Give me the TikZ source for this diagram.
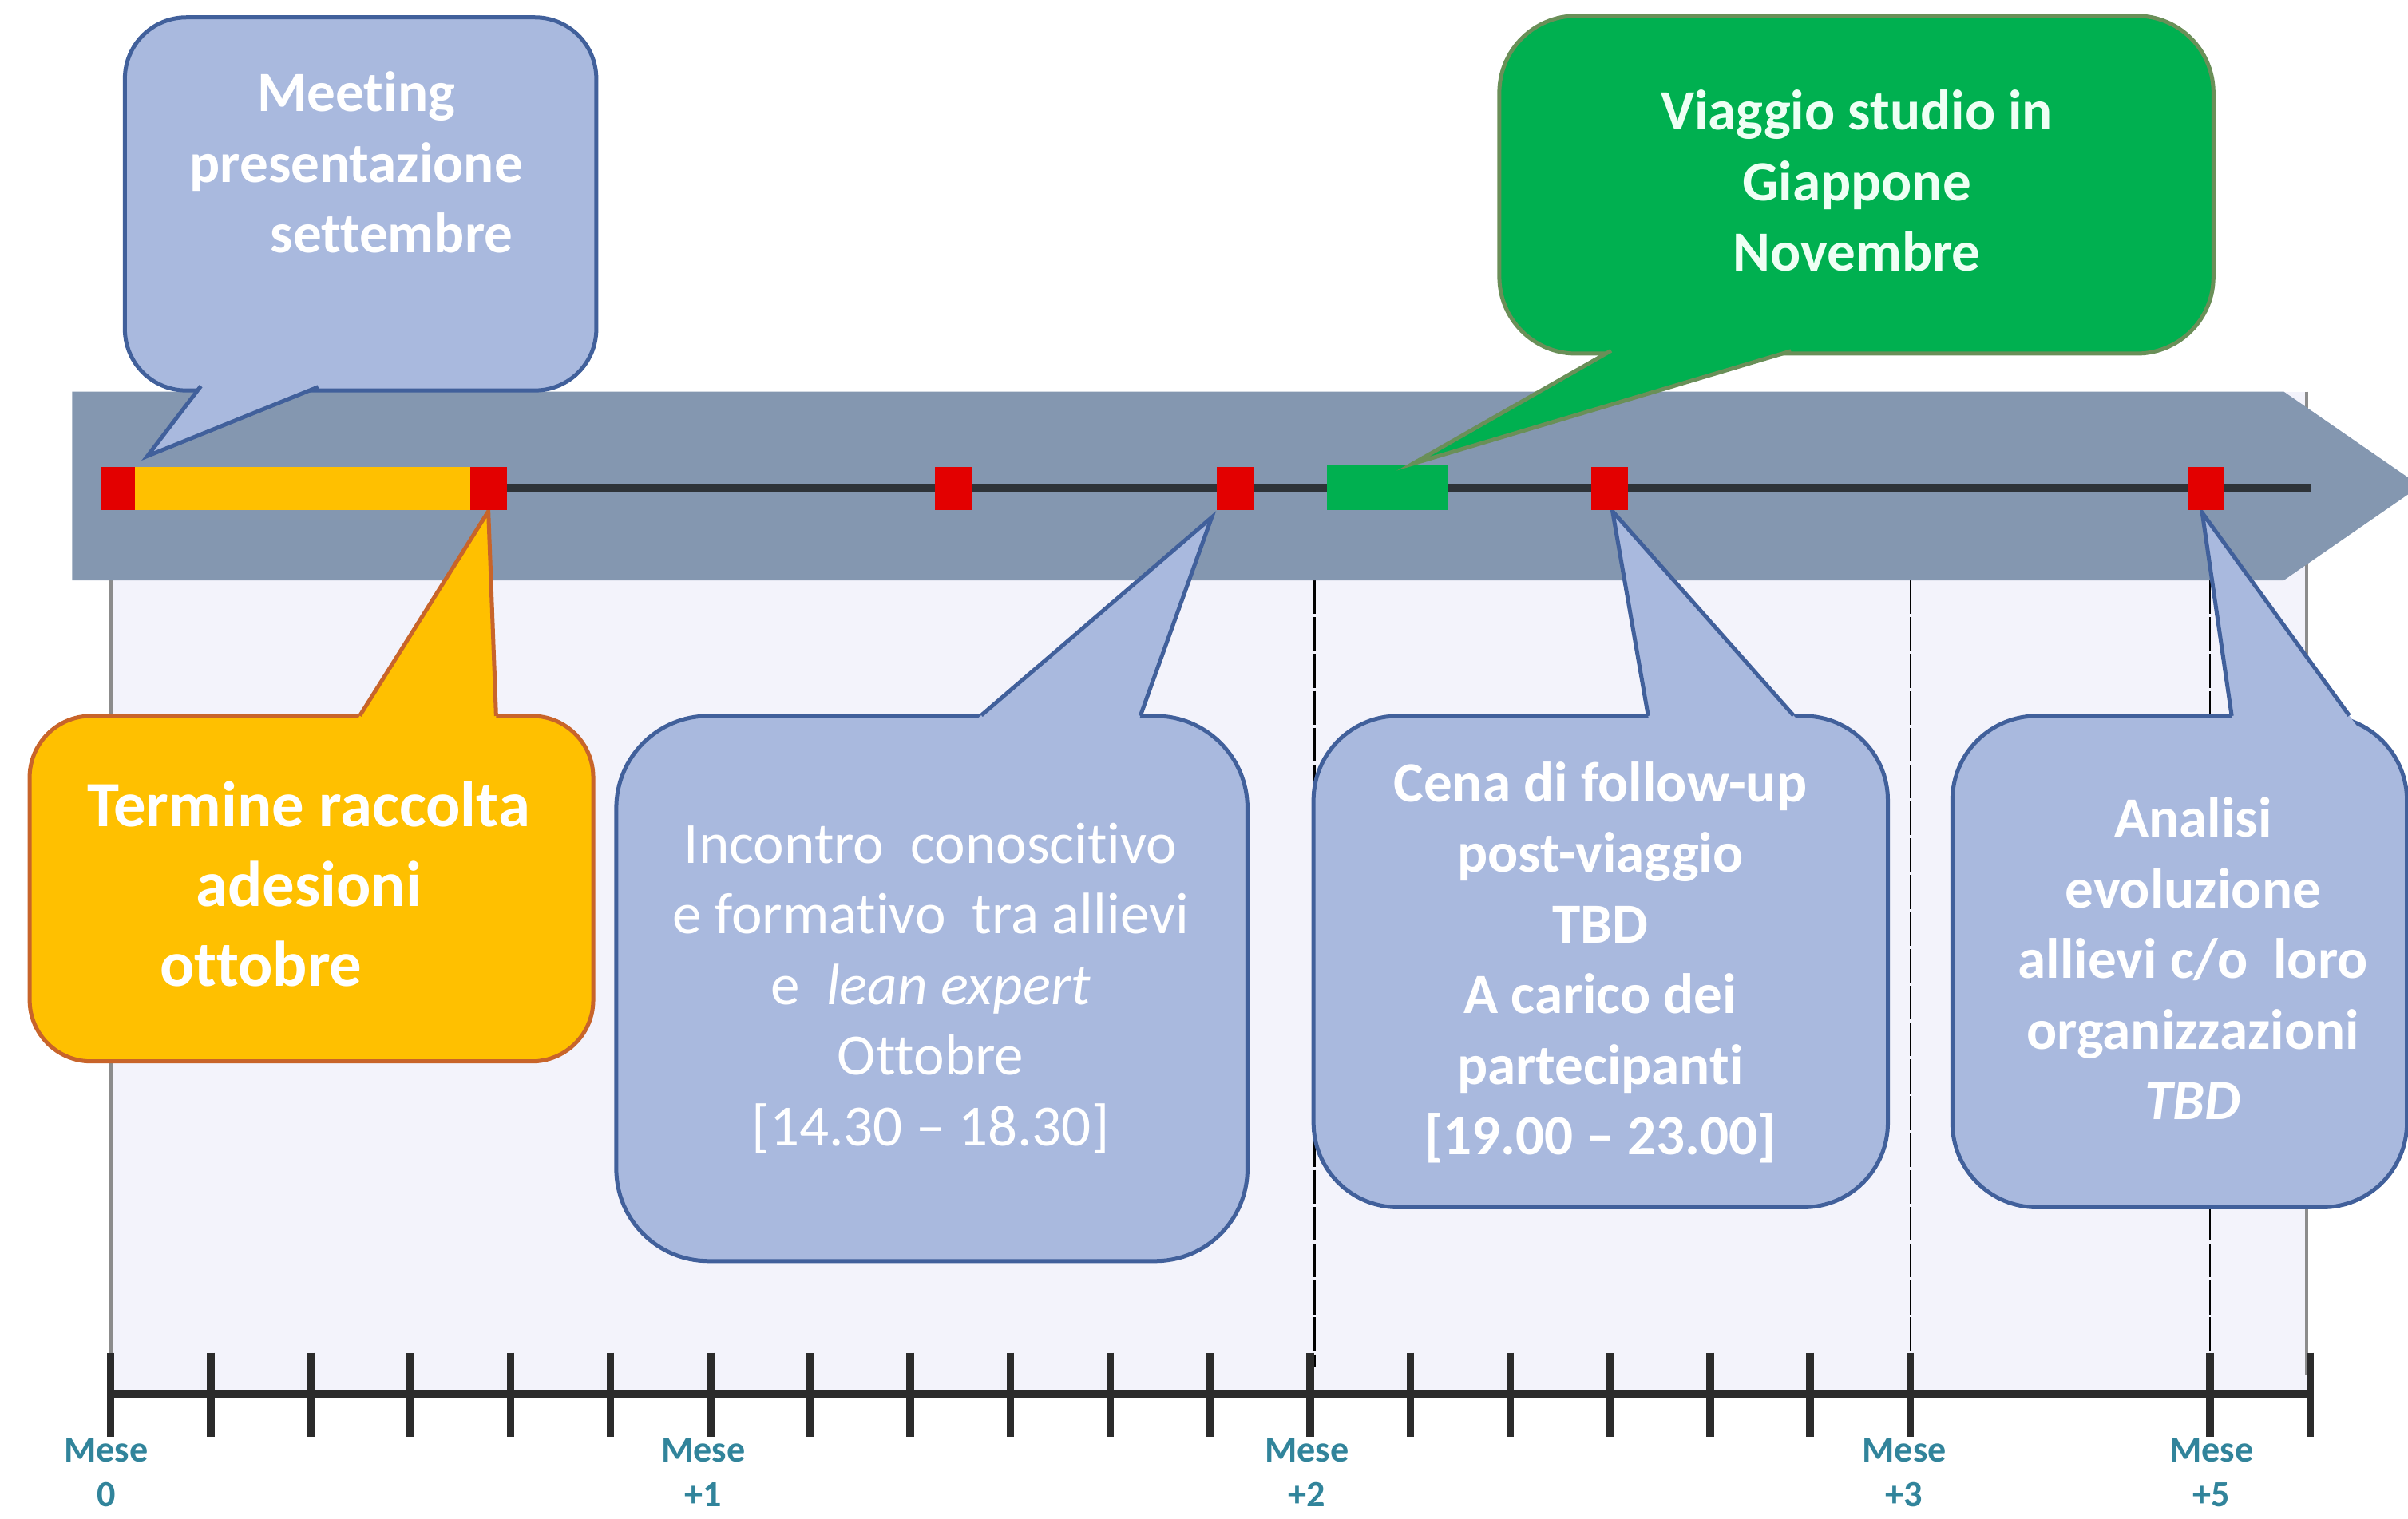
\documentclass[tikz,border=0pt]{standalone}
\usepackage{fontspec}
\setmainfont{Carlito}[Ligatures=NoCommon]
\usetikzlibrary{calc}

\definecolor{bandgray}{HTML}{8497B0}
\definecolor{panelfill}{HTML}{F3F3FB}
\definecolor{paneledge}{HTML}{8C8C8C}
\definecolor{calfill}{HTML}{A9B9DE}
\definecolor{calborder}{HTML}{41609B}
\definecolor{orfill}{HTML}{FFC000}
\definecolor{orborder}{HTML}{C8642A}
\definecolor{grfill}{HTML}{00B050}
\definecolor{grborder}{HTML}{6A8F58}
\definecolor{grtext}{HTML}{EEFFF4}
\definecolor{mkred}{HTML}{E30000}
\definecolor{axisdark}{HTML}{2B2B2B}
\definecolor{linedark}{HTML}{2E3338}
\definecolor{meseteal}{HTML}{31849B}

% tail of a speech bubble: fill colour, border colour, base point 1, tip, base point 2
\newcommand\calltail[5]{%
  \fill[#1] ($(#3)!-14pt!(#4)$) -- (#4) -- ($(#5)!-14pt!(#4)$) -- cycle;
  \draw[#2, line width=2.6pt, line join=miter]
    ($(#3)!-1.3pt!(#4)$) -- (#4) -- ($(#5)!-1.3pt!(#4)$);
}

\begin{document}
\begin{tikzpicture}[x=1pt,y=-1pt,
  calbox/.style={line width=2.6pt, rounded corners=#1, inner sep=0pt, anchor=north west},
  bluebox/.style={calbox=#1, draw=calborder, fill=calfill},
  orangebox/.style={calbox=#1, draw=orborder, fill=orfill},
  greenbox/.style={calbox=#1, draw=grborder, fill=grfill},
  txt/.style={text=white, align=center, inner sep=0pt,
    font=\fontsize{37}{46}\selectfont},
  boldtxt/.style={txt, font=\fontsize{37}{46}\selectfont\bfseries},
  bigtxt/.style={txt, font=\fontsize{42}{52}\selectfont\bfseries},
  marker/.style={fill=mkred, inner sep=0pt, minimum width=24pt, minimum height=28pt},
  tick/.style={draw=axisdark, line width=5pt},
  guide/.style={draw=black, line width=1.2pt, dash pattern=on 22pt off 2pt},
  meselbl/.style={text=meseteal, align=center, inner sep=0pt,
    font=\fontsize{24}{29}\selectfont\bfseries}
]
\useasboundingbox (0,0) rectangle (1568,989);
\fill[white] (0,0) rectangle (1568,989);

% light panel below the time band
\fill[panelfill] (72,255) rectangle (1502,905);
\draw[paneledge, line width=2.5pt] (72,378) -- (72,895);
\draw[paneledge, line width=2pt] (1502,255) -- (1502,895);

% month guide lines
\draw[guide] (856,378) -- (856,890);
\draw[guide] (1244,378) -- (1244,890);
\draw[guide] (1439,378) -- (1439,890);

% time band arrow
\fill[bandgray] (47,255) -- (1487,255) -- (1576,316.5) -- (1487,378) -- (47,378) -- cycle;
\draw[linedark, line width=5pt] (80,317.5) -- (1505,317.5);
\fill[orfill] (88,304) rectangle (307,332);
\node[fill=grfill, inner sep=0pt, minimum width=79pt, minimum height=29pt] (trip) at (903.5,317.5) {};

% month axis
\draw[axisdark, line width=6pt] (72,908) -- (1505,908);
\foreach \i in {0,...,18,21,22}
  \draw[tick] (72+65.1*\i,881) -- (72+65.1*\i,936);
\node[meselbl] (m0) at (69,961) {\strut Mese\\\strut 0};
\node[meselbl] (m1) at (458,961) {\strut Mese\\\strut +1};
\node[meselbl] (m2) at (851,961) {\strut Mese\\\strut +2};
\node[meselbl] (m3) at (1240,961) {\strut Mese\\\strut +3};
\node[meselbl] (m5) at (1440,961) {\strut Mese\\\strut +5};

% tips of the bubbles
\coordinate (tipmeet) at (96,297);
\coordinate (tipor) at (318,333);
\coordinate (tipinc) at (789,337);
\coordinate (tipcena) at (1050,333);
\coordinate (tipan) at (1434,334);
\coordinate (tipgr) at (920,302);

% Meeting
\node[bluebox=40pt, minimum width=307pt, minimum height=243pt] (meetbox) at (80,10) {};
\calltail{calfill}{calborder}{130,252.5}{tipmeet}{206,252.5}
\node[boldtxt] (meettxt) at (232,109.5)
  {\strut Meeting\\\strut presentazione\\\strut\hspace*{46pt}settembre};

% Termine raccolta adesioni
\node[orangebox=40pt, minimum width=367pt, minimum height=225pt] (orbox) at (18,465) {};
\calltail{orfill}{orborder}{235,465}{tipor}{323,465}
\node[bigtxt] (ortxt) at (201,580)
  {\strut Termine raccolta\\\strut adesioni\\\strut ottobre\hspace*{62pt}};

% Incontro
\node[bluebox=60pt, minimum width=411pt, minimum height=355pt] (incbox) at (400,465) {};
\calltail{calfill}{calborder}{640,465}{tipinc}{743,465}
\node[txt, font=\fontsize{38}{46}\selectfont] (inctxt) at (606,645)
  {\strut Incontro\ \ conoscitivo\\
   \strut e formativo\ \ tra allievi\\
   \strut e\ \ \textit{lean\ expert}\\
   \strut Ottobre\hspace*{48pt}\\
   \strut [14.30 -- 18.30]};

% Cena di follow-up
\node[bluebox=55pt, minimum width=374pt, minimum height=320pt] (cenabox) at (854,465) {};
\calltail{calfill}{calborder}{1073,465}{tipcena}{1167,465}
\node[boldtxt] (cenatxt) at (1042,628)
  {\strut Cena di follow-up\\\strut post-viaggio\\\strut TBD\\
   \strut A carico dei\\\strut partecipanti\\\strut [19.00 -- 23.00]};

% Analisi evoluzione
\node[bluebox=55pt, minimum width=296pt, minimum height=320pt] (anbox) at (1270,465) {};
\calltail{calfill}{calborder}{1453,465}{tipan}{1529,465}
\node[boldtxt] (antxt) at (1428,628)
  {\strut Analisi\\\strut evoluzione\\\strut allievi c/o\ \ loro\\
   \strut organizzazioni\\\strut\textit{TBD}};

% Viaggio studio
\node[greenbox=50pt, minimum width=465pt, minimum height=220pt] (grbox) at (975,9) {};
\calltail{grfill}{grborder}{1048,229}{tipgr}{1165,229}
\node[boldtxt, text=grtext] (grtxt) at (1209,121.5)
  {\strut Viaggio studio in\\\strut Giappone\\\strut Novembre};

% milestones
\node[marker, minimum width=22pt] (sq1) at (77,318) {};
\node[marker] (sq2) at (318,318) {};
\node[marker] (sq3) at (621,318) {};
\node[marker] (sq4) at (804.5,318) {};
\node[marker] (sq5) at (1048,318) {};
\node[marker] (sq6) at (1436.5,318) {};
\end{tikzpicture}
\end{document}
